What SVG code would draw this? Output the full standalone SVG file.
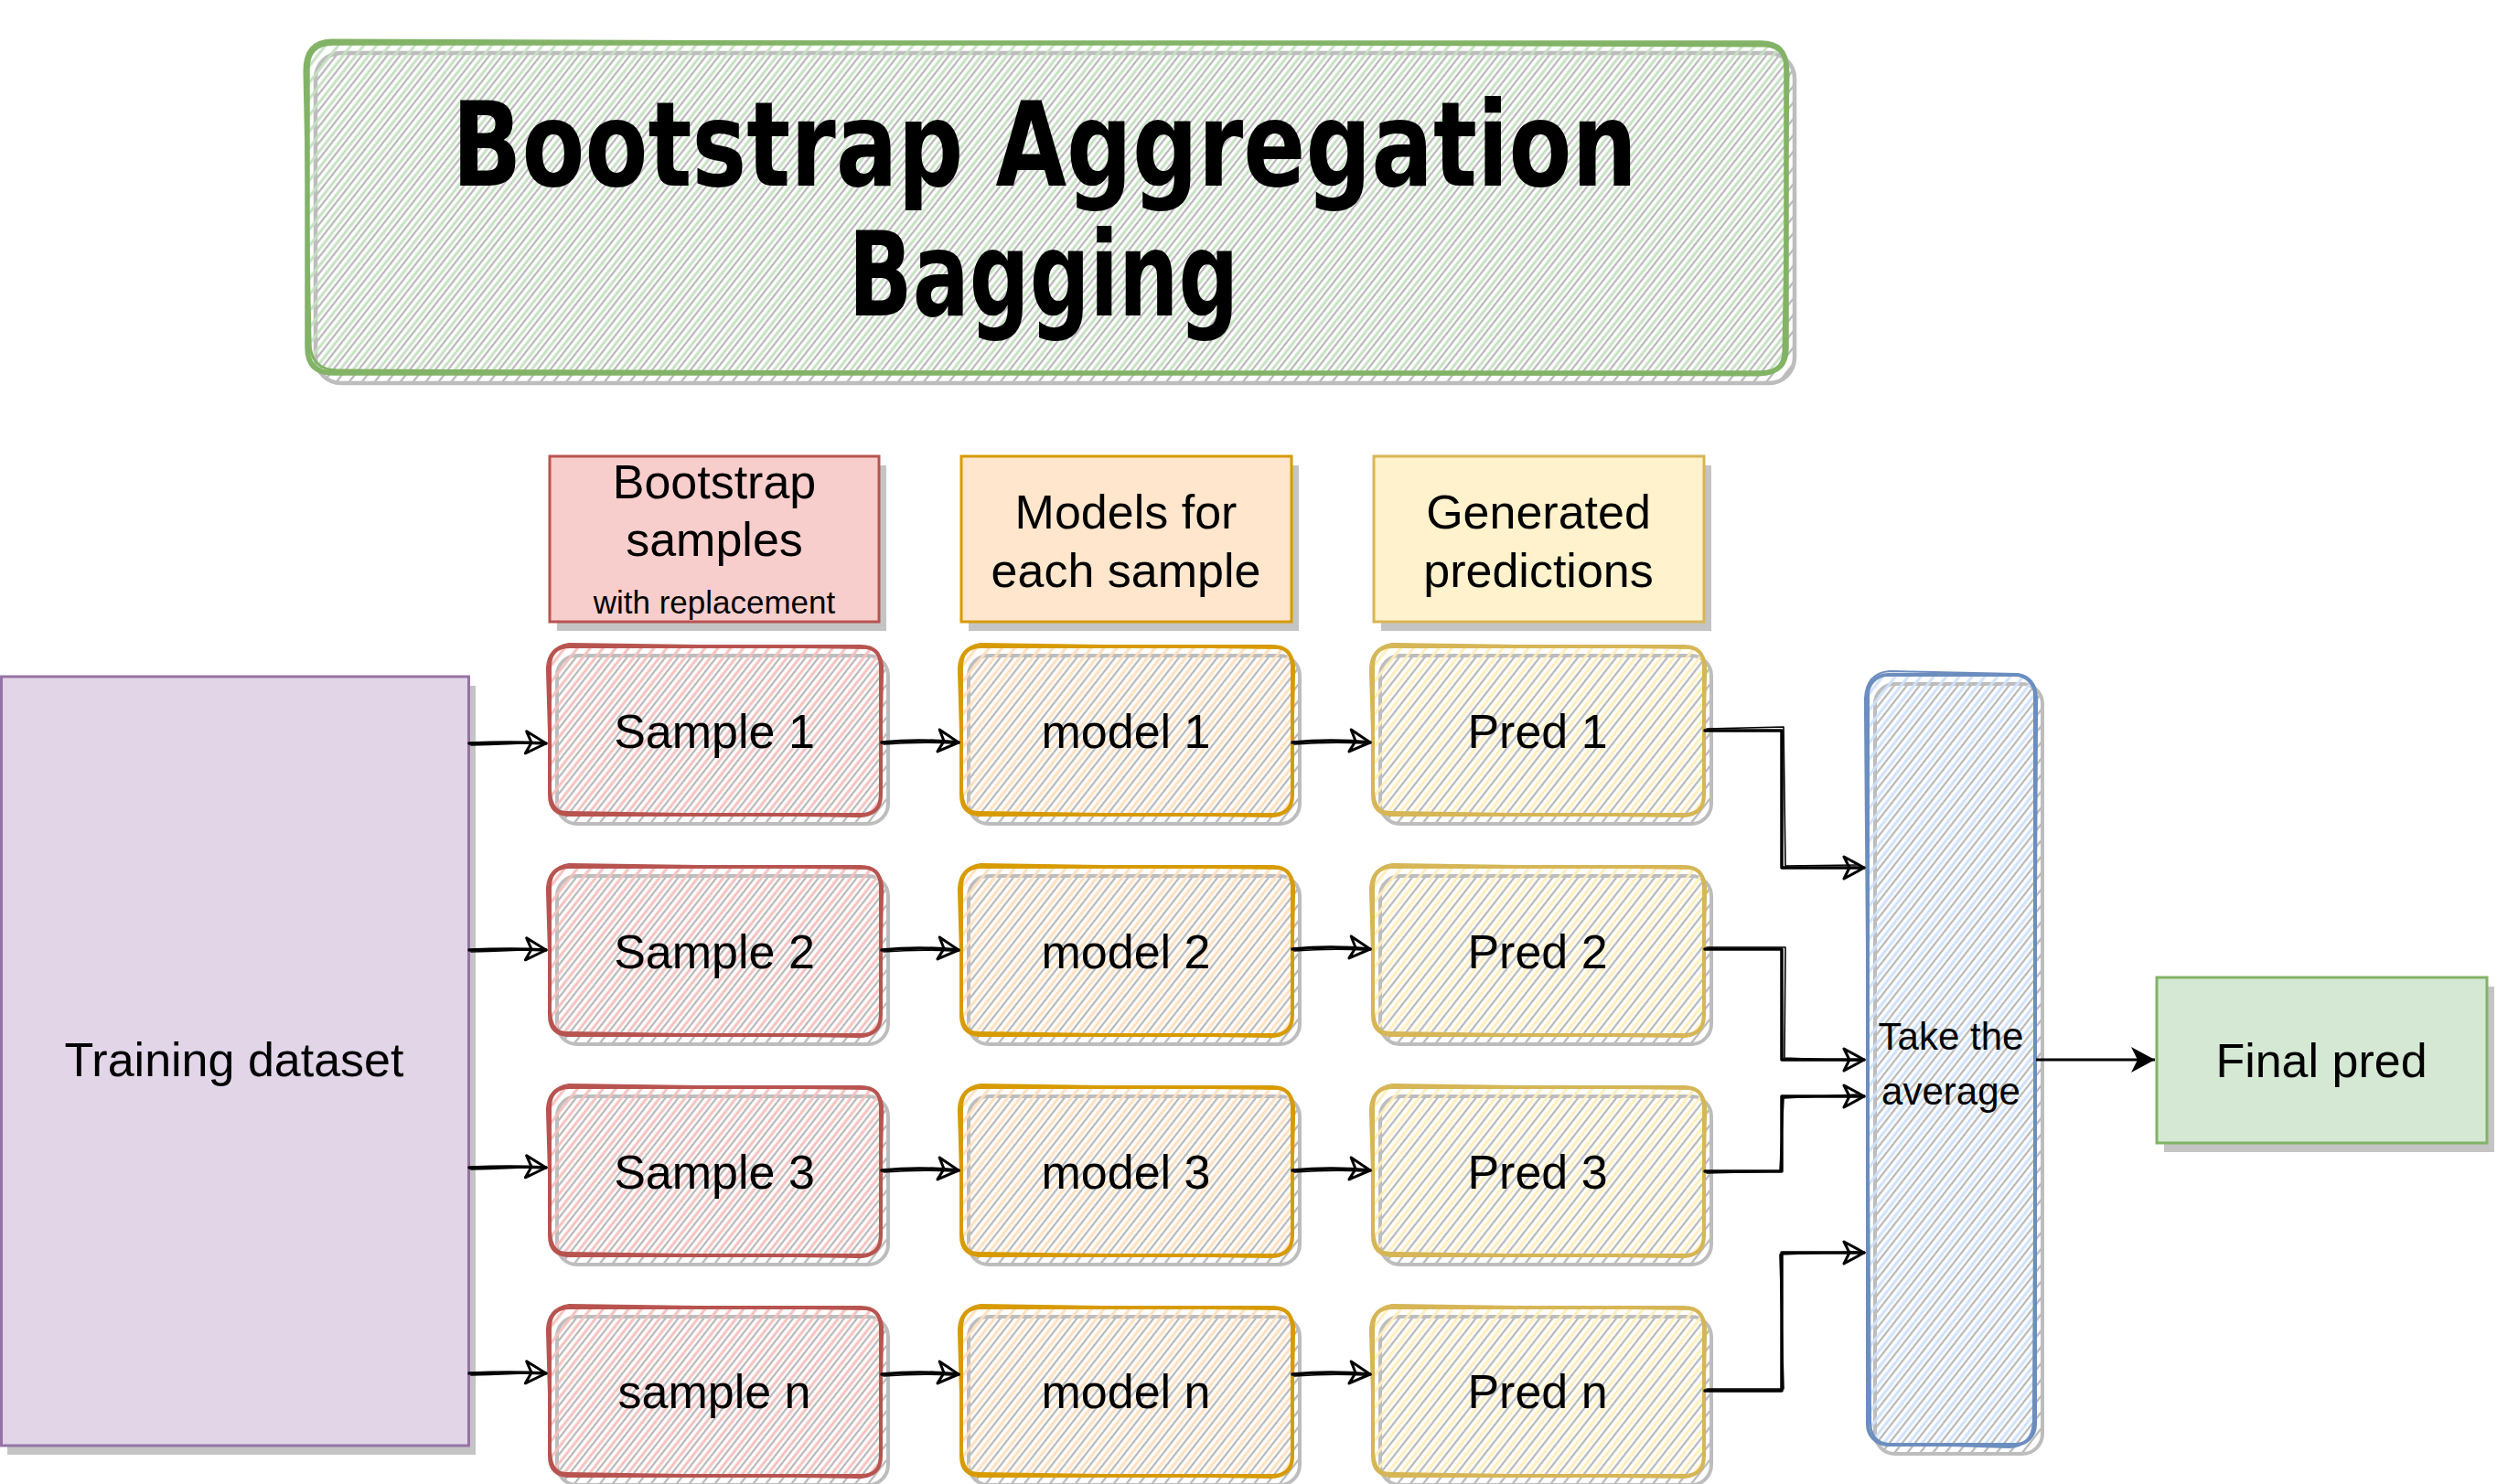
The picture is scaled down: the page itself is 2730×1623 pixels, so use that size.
<svg xmlns="http://www.w3.org/2000/svg" xmlns:xlink="http://www.w3.org/1999/xlink" width="2730" height="1623" viewBox="0 0 2730 1623">
<style>
.t{font-family:"Liberation Sans",Arial,sans-serif;font-size:52px;text-anchor:middle;fill:#000}
.s{font-size:35px}
.avg{font-size:42px}
.title{font-family:"DejaVu Sans",sans-serif;font-weight:bold;font-size:128px;text-anchor:middle;fill:#000}
.red{color:#b85450}
.org{color:#d79b00}
.yel{color:#d6b656}
.con{fill:none;stroke:#000;stroke-linecap:round;stroke-linejoin:round}
</style>
<defs>
<pattern id="hRed" patternUnits="userSpaceOnUse" width="11" height="11" patternTransform="rotate(38)"><line x1="3" y1="0" x2="3" y2="11" stroke="#f5c0be" stroke-width="3"/></pattern>
<pattern id="hOrg" patternUnits="userSpaceOnUse" width="11" height="11" patternTransform="rotate(38)"><line x1="3" y1="0" x2="3" y2="11" stroke="#ffdfbd" stroke-width="3"/></pattern>
<pattern id="hYel" patternUnits="userSpaceOnUse" width="11" height="11" patternTransform="rotate(38)"><line x1="3" y1="0" x2="3" y2="11" stroke="#ffeebb" stroke-width="3"/></pattern>
<pattern id="hBlue" patternUnits="userSpaceOnUse" width="11" height="11" patternTransform="rotate(38)"><line x1="3" y1="0" x2="3" y2="11" stroke="#cfe1fb" stroke-width="3"/></pattern>
<pattern id="hGreen" patternUnits="userSpaceOnUse" width="11" height="11" patternTransform="rotate(38)"><line x1="3" y1="0" x2="3" y2="11" stroke="#c6e0c2" stroke-width="3"/></pattern>
<pattern id="hGrey" patternUnits="userSpaceOnUse" width="11" height="11" patternTransform="rotate(38)"><line x1="8" y1="0" x2="8" y2="11" stroke="#b8b8b8" stroke-width="2.3"/></pattern>
<g id="sh"><rect x="8" y="10" width="362" height="184" rx="22" fill="url(#hGrey)" stroke="#bdbdbd" stroke-width="4"/></g>
<g id="frame" fill="none" stroke="currentColor">
<path d="M22,0 H340 Q362,0 362,22 V162 Q362,184 340,184 H22 Q0,184 0,162 V22 Q0,0 22,0 Z" stroke-width="4"/>
<path d="M-3,24 Q-2,1 21,-3 L346,2 Q365,4 364,27 L361,163 Q361,187 336,186 L19,181 Q2,182 1,158 Z" stroke-width="2.2"/>
</g>
<marker id="ao" viewBox="0 0 28 30" refX="25" refY="15" markerWidth="28" markerHeight="30" markerUnits="userSpaceOnUse" orient="auto"><path d="M3,3 L25,15 L3,27 L9,15 Z" fill="none" stroke="#000" stroke-width="3" stroke-linejoin="round"/></marker>
<marker id="af" viewBox="0 0 26 28" refX="26" refY="14" markerWidth="26" markerHeight="28" markerUnits="userSpaceOnUse" orient="auto"><path d="M0,0 L26,14 L0,28 L7,14 Z" fill="#000"/></marker>
</defs>
<rect width="2730" height="1623" fill="#fff"/>

<g id="title">
<rect x="345" y="58" width="1617" height="361" rx="28" fill="url(#hGrey)" stroke="#bdbdbd" stroke-width="4.5"/>
<rect x="336" y="47" width="1617" height="361" rx="28" fill="url(#hGreen)"/>
<path d="M364,47 H1925 Q1953,47 1953,75 V380 Q1953,408 1925,408 H364 Q336,408 336,380 V75 Q336,47 364,47 Z" fill="none" stroke="#82b366" stroke-width="5.5"/>
<path d="M333,80 Q332,45 362,44 L1930,50 Q1956,52 1955,83 L1950,384 Q1949,411 1920,410 L370,405 Q338,405 339,372 Z" fill="none" stroke="#82b366" stroke-width="3"/>
<text class="title" x="1142" y="203" textLength="1296" lengthAdjust="spacingAndGlyphs">Bootstrap Aggregation</text>
<text class="title" x="1141" y="345" textLength="427" lengthAdjust="spacingAndGlyphs">Bagging</text>
</g>

<g id="hdr-bootstrap">
<rect x="609" y="509" width="360" height="181" fill="#c4c4c4"/>
<rect x="601" y="499" width="360" height="181" fill="#f8cecc" stroke="#b85450" stroke-width="3"/>
<text class="t" x="781" y="545">Bootstrap</text>
<text class="t" x="781" y="608">samples</text>
<text class="t s" x="781" y="671">with replacement</text>
</g>
<g id="hdr-models">
<rect x="1059" y="509" width="361" height="181" fill="#c4c4c4"/>
<rect x="1051" y="499" width="361" height="181" fill="#ffe6cc" stroke="#d79b00" stroke-width="3"/>
<text class="t" x="1231" y="578">Models for</text>
<text class="t" x="1231" y="642">each sample</text>
</g>
<g id="hdr-preds">
<rect x="1510" y="509" width="361" height="181" fill="#c4c4c4"/>
<rect x="1502" y="499" width="361" height="181" fill="#fff2cc" stroke="#d6b656" stroke-width="3"/>
<text class="t" x="1682" y="578">Generated</text>
<text class="t" x="1682" y="642">predictions</text>
</g>

<g id="dataset">
<rect x="8" y="750" width="512" height="841" fill="#c4c4c4"/>
<rect x="1.5" y="740" width="511" height="841" fill="#e1d5e7" stroke="#9673a6" stroke-width="3"/>
<text class="t" x="256" y="1177">Training dataset</text>
</g>

<g id="sample1" transform="translate(601,707)"><use href="#sh"/><rect width="362" height="184" rx="22" fill="url(#hRed)"/><use href="#frame" class="red"/><text class="t" x="180" y="111">Sample 1</text></g>
<g id="sample2" transform="translate(601,948)"><use href="#sh"/><rect width="362" height="184" rx="22" fill="url(#hRed)"/><use href="#frame" class="red"/><text class="t" x="180" y="111">Sample 2</text></g>
<g id="sample3" transform="translate(601,1189)"><use href="#sh"/><rect width="362" height="184" rx="22" fill="url(#hRed)"/><use href="#frame" class="red"/><text class="t" x="180" y="111">Sample 3</text></g>
<g id="samplen" transform="translate(601,1430)"><use href="#sh"/><rect width="362" height="184" rx="22" fill="url(#hRed)"/><use href="#frame" class="red"/><text class="t" x="180" y="110">sample n</text></g>

<g id="model1" transform="translate(1051,707)"><use href="#sh"/><rect width="362" height="184" rx="22" fill="url(#hOrg)"/><use href="#frame" class="org"/><text class="t" x="180" y="111">model 1</text></g>
<g id="model2" transform="translate(1051,948)"><use href="#sh"/><rect width="362" height="184" rx="22" fill="url(#hOrg)"/><use href="#frame" class="org"/><text class="t" x="180" y="111">model 2</text></g>
<g id="model3" transform="translate(1051,1189)"><use href="#sh"/><rect width="362" height="184" rx="22" fill="url(#hOrg)"/><use href="#frame" class="org"/><text class="t" x="180" y="111">model 3</text></g>
<g id="modeln" transform="translate(1051,1430)"><use href="#sh"/><rect width="362" height="184" rx="22" fill="url(#hOrg)"/><use href="#frame" class="org"/><text class="t" x="180" y="110">model n</text></g>

<g id="pred1" transform="translate(1501,707)"><use href="#sh"/><rect width="362" height="184" rx="22" fill="url(#hYel)"/><use href="#frame" class="yel"/><text class="t" x="180" y="111">Pred 1</text></g>
<g id="pred2" transform="translate(1501,948)"><use href="#sh"/><rect width="362" height="184" rx="22" fill="url(#hYel)"/><use href="#frame" class="yel"/><text class="t" x="180" y="111">Pred 2</text></g>
<g id="pred3" transform="translate(1501,1189)"><use href="#sh"/><rect width="362" height="184" rx="22" fill="url(#hYel)"/><use href="#frame" class="yel"/><text class="t" x="180" y="111">Pred 3</text></g>
<g id="predn" transform="translate(1501,1430)"><use href="#sh"/><rect width="362" height="184" rx="22" fill="url(#hYel)"/><use href="#frame" class="yel"/><text class="t" x="180" y="110">Pred n</text></g>

<g id="average" transform="translate(2042,738)">
<rect x="8" y="10" width="183" height="842" rx="22" fill="url(#hGrey)" stroke="#bdbdbd" stroke-width="4"/>
<rect width="183" height="842" rx="22" fill="url(#hBlue)"/>
<rect width="183" height="842" rx="22" fill="none" stroke="#6c8ebf" stroke-width="4"/>
<path d="M-3,27 Q-2,-2 24,-4 L163,-1 Q186,2 185,30 L181,817 Q180,844 154,845 L24,841 Q2,840 3,814 Z" fill="none" stroke="#6c8ebf" stroke-width="2.2"/>
<text class="t avg" x="91" y="410">Take the</text>
<text class="t avg" x="91" y="470">average</text>
</g>

<g id="final">
<rect x="2366" y="1079" width="361" height="181" fill="#c4c4c4"/>
<rect x="2358" y="1069" width="361" height="181" fill="#d5e8d4" stroke="#82b366" stroke-width="3"/>
<text class="t" x="2538" y="1178">Final pred</text>
</g>

<g id="connectors">
<g class="con" stroke-width="3.5">
<path d="M513,813 Q560,811 597,813" marker-end="url(#ao)"/>
<path d="M513,1039 Q560,1037 597,1039" marker-end="url(#ao)"/>
<path d="M513,1277 Q560,1275 597,1277" marker-end="url(#ao)"/>
<path d="M513,1502 Q560,1500 597,1502" marker-end="url(#ao)"/>
<path d="M964,812 Q1005,808 1048,812" marker-end="url(#ao)"/>
<path d="M964,1039 Q1005,1035 1048,1039" marker-end="url(#ao)"/>
<path d="M964,1280 Q1005,1276 1048,1280" marker-end="url(#ao)"/>
<path d="M964,1503 Q1005,1499 1048,1503" marker-end="url(#ao)"/>
<path d="M1413,812 Q1455,808 1498,812" marker-end="url(#ao)"/>
<path d="M1413,1038 Q1455,1034 1498,1038" marker-end="url(#ao)"/>
<path d="M1413,1280 Q1455,1276 1498,1280" marker-end="url(#ao)"/>
<path d="M1413,1503 Q1455,1499 1498,1503" marker-end="url(#ao)"/>
<path d="M1864,799 H1948 V949 H2038" marker-end="url(#ao)"/>
<path d="M1864,1038 H1948 V1159 H2038" marker-end="url(#ao)"/>
<path d="M1864,1281 H1948 V1199 H2038" marker-end="url(#ao)"/>
<path d="M1864,1521 H1948 V1370 H2038" marker-end="url(#ao)"/>
</g>
<g class="con" stroke-width="1.6">
<path d="M515,815 Q556,814 590,812"/>
<path d="M515,1041 Q556,1040 590,1038"/>
<path d="M515,1279 Q556,1278 590,1276"/>
<path d="M515,1504 Q556,1503 590,1501"/>
<path d="M966,814 Q1005,811 1041,813"/>
<path d="M966,1041 Q1005,1038 1041,1040"/>
<path d="M966,1282 Q1005,1279 1041,1281"/>
<path d="M966,1505 Q1005,1502 1041,1504"/>
<path d="M1415,814 Q1455,811 1491,813"/>
<path d="M1415,1040 Q1455,1037 1491,1039"/>
<path d="M1415,1282 Q1455,1279 1491,1281"/>
<path d="M1415,1505 Q1455,1502 1491,1504"/>
<path d="M1866,797 L1950,795 L1952,947 L2030,946"/>
<path d="M1866,1036 L1952,1036 L1951,1157 L2030,1160"/>
<path d="M1866,1283 L1946,1281 L1950,1201 L2030,1197"/>
<path d="M1866,1519 L1950,1519 L1946,1372 L2030,1369"/>
</g>
<path d="M2226,1159 H2356" fill="none" stroke="#000" stroke-width="3" marker-end="url(#af)"/>
</g>
</svg>
